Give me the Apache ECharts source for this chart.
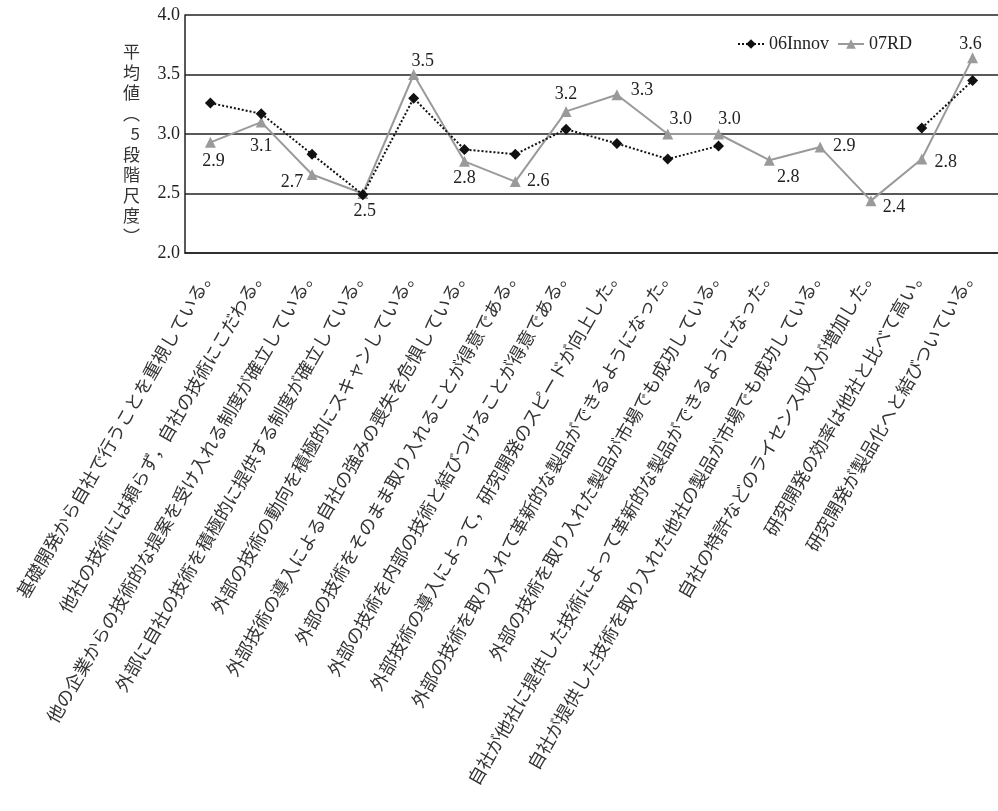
<!DOCTYPE html>
<html>
<head>
<meta charset="utf-8">
<script src="https://cdn.jsdelivr.net/npm/echarts@6/dist/echarts.min.js"></script>
<style>
html,body{margin:0;padding:0;background:#fff;}
#chart{width:998px;height:811px;}
</style>
</head>
<body>
<div id="chart"></div>
<script>
const categories = [
  '基礎開発から自社で行うことを重視している。',
  '他社の技術には頼らず，自社の技術にこだわる。',
  '他の企業からの技術的な提案を受け入れる制度が確立している。',
  '外部に自社の技術を積極的に提供する制度が確立している。',
  '外部の技術の動向を積極的にスキャンしている。',
  '外部技術の導入による自社の強みの喪失を危惧している。',
  '外部の技術をそのまま取り入れることが得意である。',
  '外部の技術を内部の技術と結びつけることが得意である。',
  '外部技術の導入によって，研究開発のスピードが向上した。',
  '外部の技術を取り入れて革新的な製品ができるようになった。',
  '外部の技術を取り入れた製品が市場でも成功している。',
  '自社が他社に提供した技術によって革新的な製品ができるようになった。',
  '自社が提供した技術を取り入れた他社の製品が市場でも成功している。',
  '自社の特許などのライセンス収入が増加した。',
  '研究開発の効率は他社と比べて高い。',
  '研究開発が製品化へと結びついている。'
];
const seriesNames = ['06Innov', '07RD'];
const innov06 = [3.26, 3.17, 2.83, 2.49, 3.30, 2.87, 2.83, 3.04, 2.92, 2.79, 2.90, null, null, null, 3.05, 3.45];
const rd07 = [2.93, 3.10, 2.66, 2.50, 3.50, 2.77, 2.60, 3.19, 3.33, 3.00, 3.00, 2.78, 2.89, 2.44, 2.79, 3.64];
const yTicks = {min: 2, max: 4, interval: 0.5};
const yAxisName = ['平','均','値','︵','5','段','階','尺','度','︶'];

// label placement offsets (layout only)
const labelOffsets = [[3,19],[0,24],[-20,8],[2,18],[9,-13],[0,17],[23,0],[0,-17],[25,-4],[13,-15],[11,-15],[19,17],[24,-1],[23,7],[24,3],[-2,-14]];

const serif = '"Liberation Serif", "Noto Sans CJK JP", serif';
const chart = echarts.init(document.getElementById('chart'), null, {renderer: 'canvas'});
chart.setOption({
  backgroundColor: '#fff',
  animation: false,
  grid: {left: 185, right: 0, top: 15, bottom: 558, containLabel: false},
  legend: {
    left: 732, top: 30,
    itemWidth: 26, itemHeight: 12, itemGap: 8,
    textStyle: {fontFamily: serif, fontSize: 18, color: '#222'},
    data: seriesNames
  },
  xAxis: {
    type: 'category',
    data: categories,
    boundaryGap: true,
    axisLine: {lineStyle: {color: '#222', width: 1.5}},
    axisTick: {inside: true, length: 5, lineStyle: {color: '#222', width: 1.2}},
    axisLabel: {
      rotate: 60, interval: 0, margin: 16,
      fontFamily: '"Noto Sans CJK JP", sans-serif', fontSize: 18, color: '#333'
    }
  },
  yAxis: {
    type: 'value',
    min: yTicks.min, max: yTicks.max, interval: yTicks.interval,
    name: '\n' + yAxisName.join('\n'),
    nameLocation: 'middle', nameRotate: 0, nameGap: 45,
    nameTextStyle: {fontFamily: '"Noto Sans CJK JP", sans-serif', fontSize: 17, color: '#333', lineHeight: 20.5},
    axisLine: {show: true, lineStyle: {color: '#222', width: 1.5}},
    axisTick: {show: false},
    axisLabel: {
      margin: 5, fontFamily: serif, fontSize: 18, color: '#222',
      formatter: v => v.toFixed(1)
    },
    splitLine: {lineStyle: {color: '#222', width: 1.5}}
  },
  series: [
    {
      name: seriesNames[0], type: 'line', data: innov06,
      symbol: 'diamond', symbolSize: 11,
      itemStyle: {color: '#111'},
      lineStyle: {color: '#111', width: 2, type: 'dotted'},
      connectNulls: false, z: 3
    },
    {
      name: seriesNames[1], type: 'line',
      data: rd07.map((v, i) => ({
        value: v,
        label: {show: true, position: 'inside', offset: labelOffsets[i]}
      })),
      symbol: 'triangle', symbolSize: 11,
      itemStyle: {color: '#9a9a9a'},
      lineStyle: {color: '#9a9a9a', width: 2},
      label: {
        show: true, fontFamily: serif, fontSize: 18, color: '#222',
        formatter: p => p.value.toFixed(1)
      },
      z: 2
    }
  ]
});
</script>
</body>
</html>
